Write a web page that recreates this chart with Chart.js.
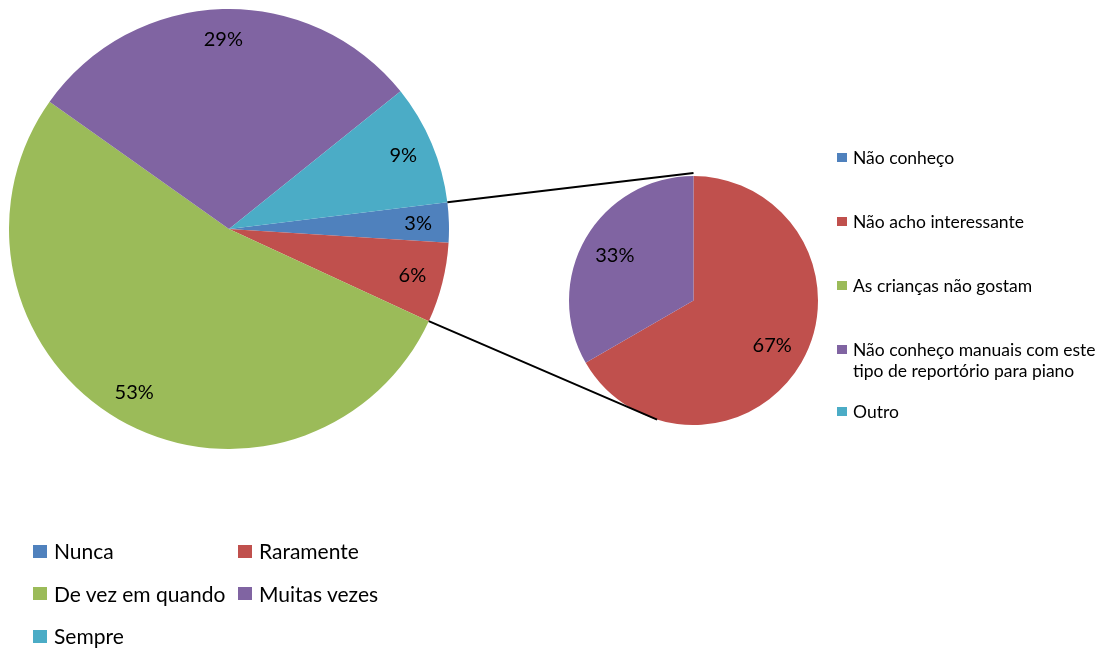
<!DOCTYPE html>
<html>
<head>
<meta charset="utf-8">
<script src="https://cdn.jsdelivr.net/npm/chart.js@4.4.0/dist/chart.umd.min.js"></script>
<style>
  html, body { margin: 0; padding: 0; background: #fff; }
  #wrap { position: relative; width: 1106px; height: 650px; overflow: hidden;
          font-family: Lato, "Liberation Sans", sans-serif; color: #000; }
  #mainPie { position: absolute; left: 9px; top: 9px; }
  #subPie { position: absolute; left: 569px; top: 176px; }
  #links { position: absolute; left: 0; top: 0; pointer-events: none; }
  .lg { position: absolute; display: flex; white-space: pre-line; }
  .lg .sw { flex: none; }
  .bottom { font-size: 21px; line-height: 24px; align-items: center; }
  .bottom .sw { width: 14px; height: 13px; margin-right: 7px; }
  .side { font-size: 17.5px; line-height: 21px; align-items: flex-start; }
  .side .sw { width: 10px; height: 9px; margin: 6px 6px 0 0; }
</style>
</head>
<body>
<div id="wrap">
  <canvas id="mainPie" width="440" height="440"></canvas>
  <canvas id="subPie" width="249" height="249"></canvas>
  <canvas id="links" width="1106" height="650"></canvas>
</div>
<script>
// frequência (respostas)
const mainLabels = ["Nunca", "Raramente", "De vez em quando", "Muitas vezes", "Sempre"];
const mainValues = [1, 2, 18, 10, 3];
const mainColors = ["#4F81BD", "#C0504D", "#9BBB59", "#8064A2", "#4BACC6"];

// motivos (Nunca + Raramente)
const subLabels = [
  "Não conheço",
  "Não acho interessante",
  "As crianças não gostam",
  "Não conheço manuais com este\ntipo de reportório para piano",
  "Outro"
];
const subValues = [0, 2, 0, 1, 0];
const subColors = ["#4F81BD", "#C0504D", "#9BBB59", "#8064A2", "#4BACC6"];

// etiquetas de percentagem dentro das fatias
const pctLabels = {
  id: "pctLabels",
  afterDatasetsDraw(chart, args, opts) {
    const ctx = chart.ctx;
    const vals = chart.data.datasets[0].data;
    const total = vals.reduce((a, b) => a + b, 0);
    const arcs = chart.getDatasetMeta(0).data;
    ctx.save();
    ctx.font = '20px Lato, "Liberation Sans", sans-serif';
    ctx.fillStyle = "#000";
    ctx.textAlign = "center";
    ctx.textBaseline = "middle";
    arcs.forEach((arc, i) => {
      if (!vals[i]) return;
      const a = (arc.startAngle + arc.endAngle) / 2;
      const r = arc.outerRadius * opts.pos;
      const txt = Math.round((vals[i] / total) * 100) + "%";
      ctx.fillText(txt, arc.x + Math.cos(a) * r, arc.y + Math.sin(a) * r);
    });
    ctx.restore();
  },
};

function pieConfig(labels, values, colors, rotation, labelPos) {
  return {
    type: "pie",
    data: {
      labels: labels,
      datasets: [{ data: values, backgroundColor: colors, borderWidth: 0 }],
    },
    options: {
      responsive: false,
      animation: false,
      rotation: rotation,
      layout: { padding: 0 },
      plugins: {
        legend: { display: false },
        tooltip: { enabled: false },
        pctLabels: { pos: labelPos },
      },
    },
    plugins: [pctLabels],
  };
}

const mainChart = new Chart(document.getElementById("mainPie"), pieConfig(mainLabels, mainValues, mainColors, 83, 0.86));
const subChart = new Chart(document.getElementById("subPie"), pieConfig(subLabels, subValues, subColors, 0, 0.73));

// linhas de ligação entre as duas tartes
function drawLinks() {
  const ctx = document.getElementById("links").getContext("2d");
  const mArcs = mainChart.getDatasetMeta(0).data;
  const sArcs = subChart.getDatasetMeta(0).data;
  const mOff = { x: 9, y: 9 };
  const sOff = { x: 569, y: 176 };
  const first = mArcs[0], second = mArcs[1];
  const s = sArcs[1];
  const p1 = {
    x: mOff.x + first.x + Math.cos(first.startAngle) * first.outerRadius,
    y: mOff.y + first.y + Math.sin(first.startAngle) * first.outerRadius,
  };
  const p2 = {
    x: mOff.x + second.x + Math.cos(second.endAngle) * second.outerRadius,
    y: mOff.y + second.y + Math.sin(second.endAngle) * second.outerRadius,
  };
  const topA = -Math.PI / 2, botA = (107 * Math.PI) / 180;
  const q1 = {
    x: sOff.x + s.x + Math.cos(topA) * (s.outerRadius + 3),
    y: sOff.y + s.y + Math.sin(topA) * (s.outerRadius + 3),
  };
  const q2 = {
    x: sOff.x + s.x + Math.cos(botA) * s.outerRadius,
    y: sOff.y + s.y + Math.sin(botA) * s.outerRadius,
  };
  ctx.strokeStyle = "#000";
  ctx.lineWidth = 2;
  ctx.beginPath();
  ctx.moveTo(p1.x, p1.y);
  ctx.lineTo(q1.x, q1.y);
  ctx.moveTo(p2.x, p2.y);
  ctx.lineTo(q2.x, q2.y);
  ctx.stroke();
}
drawLinks();

// legendas
const wrap = document.getElementById("wrap");
function addLegendItem(cls, text, color, left, top) {
  const item = document.createElement("div");
  item.className = "lg " + cls;
  item.style.left = left + "px";
  item.style.top = top + "px";
  const sw = document.createElement("span");
  sw.className = "sw";
  sw.style.background = color;
  const t = document.createElement("span");
  t.textContent = text;
  item.appendChild(sw);
  item.appendChild(t);
  wrap.appendChild(item);
}
mainLabels.forEach((lab, i) => {
  const col = i % 2, row = Math.floor(i / 2);
  addLegendItem("bottom", lab, mainColors[i], 33 + col * 205, 539 + row * 42.5);
});
const sideTops = [147, 211, 275, 339, 401];
subLabels.forEach((lab, i) => {
  addLegendItem("side", lab, subColors[i], 837, sideTops[i]);
});
</script>
</body>
</html>
